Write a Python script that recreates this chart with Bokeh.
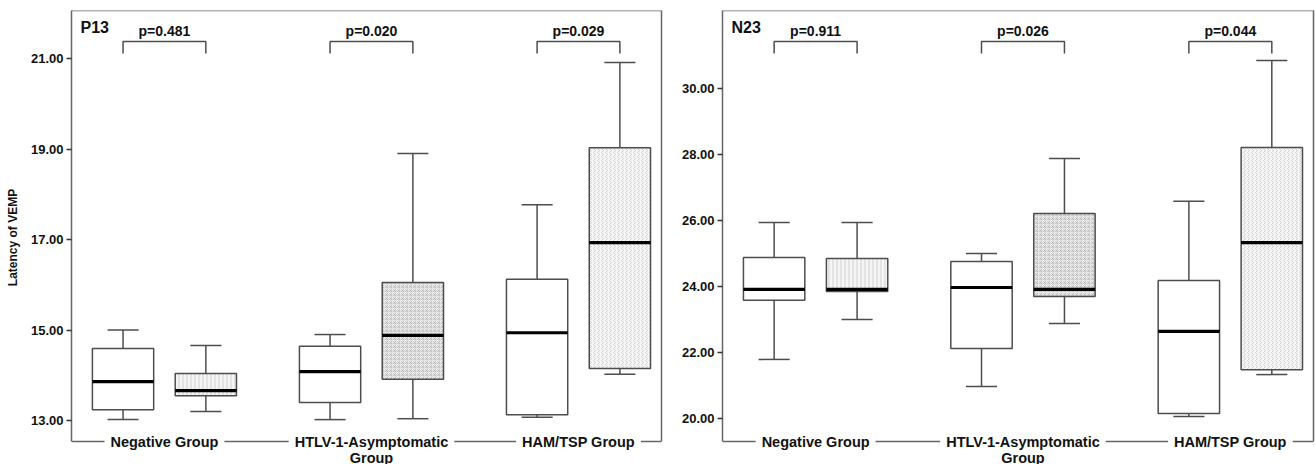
from bokeh.plotting import figure
from bokeh.models import (ColumnDataSource, Range1d, FixedTicker, NumeralTickFormatter, Span, Label,
                          LinearAxis)
from bokeh.layouts import row
from bokeh.embed import file_html
from bokeh.resources import INLINE

# ---------------- data ----------------
group_lines = [["Negative Group"], ["HTLV-1-Asymptomatic", "Group"], ["HAM/TSP Group"]]

# P13 latency (plain boxes)
p13_plain_min = [13.02, 13.02, 13.07]
p13_plain_q1 = [13.24, 13.40, 13.13]
p13_plain_med = [13.86, 14.08, 14.94]
p13_plain_q3 = [14.59, 14.64, 16.12]
p13_plain_max = [15.00, 14.90, 17.77]
# P13 latency (hatched boxes)
p13_hatch_min = [13.20, 13.04, 14.02]
p13_hatch_q1 = [13.55, 13.91, 14.15]
p13_hatch_med = [13.66, 14.88, 16.93]
p13_hatch_q3 = [14.04, 16.05, 19.03]
p13_hatch_max = [14.66, 18.90, 20.91]
p13_pvalues = ["p=0.481", "p=0.020", "p=0.029"]
p13_ticks = [13, 15, 17, 19, 21]

# N23 latency (plain boxes)
n23_plain_min = [21.79, 20.97, 20.06]
n23_plain_q1 = [23.58, 22.12, 20.15]
n23_plain_med = [23.91, 23.97, 22.64]
n23_plain_q3 = [24.88, 24.76, 24.18]
n23_plain_max = [25.94, 25.00, 26.58]
# N23 latency (hatched boxes)
n23_hatch_min = [23.00, 22.88, 21.33]
n23_hatch_q1 = [23.85, 23.70, 21.48]
n23_hatch_med = [23.91, 23.91, 25.33]
n23_hatch_q3 = [24.85, 26.21, 28.21]
n23_hatch_max = [25.94, 27.88, 30.85]
n23_pvalues = ["p=0.911", "p=0.026", "p=0.044"]
n23_ticks = [20, 22, 24, 26, 28, 30]

hatch_patterns = ["vertical_line", "criss_cross", "vertical_wave"]

# ---------------- style / layout ----------------
FONT = "Liberation Sans"
LINE = "#4d4d4d"
FRAME = "#666666"
TXT = "#111111"
FIG_H = 464
BT, BB = 10, 0
FRAME_H = FIG_H - BT - BB
BASE_PX = 431        # px from frame top to the bottom (category) line
X0, X1 = -0.449, 2.401
DX = 0.2
BW = 0.296
CAP = 0.15


def make_panel(name, plain, hatch, pvals, ticks, y_start, y_end, width, bl, br, ylabel=None):
    p = figure(width=width, height=FIG_H, x_range=Range1d(X0, X1), y_range=Range1d(y_start, y_end),
               output_backend="svg", toolbar_location=None,
               min_border_left=bl, min_border_right=br, min_border_top=BT, min_border_bottom=BB)
    p.outline_line_color = None
    p.xaxis.visible = False
    p.xgrid.visible = False
    p.ygrid.visible = False
    p.background_fill_color = "white"
    p.border_fill_color = "white"

    upp = (y_end - y_start) / FRAME_H
    upx = (X1 - X0) / (width - bl - br)

    def yp(px):
        return y_end - px * upp

    y_base = yp(BASE_PX)

    ax = p.yaxis[0]
    ax.bounds = (y_base, y_end)
    ax.ticker = FixedTicker(ticks=ticks)
    ax.formatter = NumeralTickFormatter(format="0.00")
    ax.major_label_text_font = FONT
    ax.major_label_text_font_style = "bold"
    ax.major_label_text_font_size = "13px"
    ax.major_label_text_color = TXT
    ax.major_label_standoff = 3
    ax.major_tick_out = 5
    ax.major_tick_in = 0
    ax.minor_tick_out = 0
    ax.minor_tick_in = 0
    ax.major_tick_line_width = 1.5
    ax.major_tick_line_color = "#333333"
    ax.axis_line_width = 1.5
    ax.axis_line_color = FRAME
    if ylabel:
        ax.axis_label = ylabel
        ax.axis_label_text_font = FONT
        ax.axis_label_text_font_style = "bold"
        ax.axis_label_text_font_size = "12px"
        ax.axis_label_text_color = TXT
        ax.axis_label_standoff = 8

    rax = LinearAxis(ticker=FixedTicker(ticks=[]), bounds=(y_base, y_end),
                     axis_line_color=FRAME, axis_line_width=1.5,
                     major_tick_out=0, major_tick_in=0, minor_tick_out=0, minor_tick_in=0)
    p.add_layout(rax, "right")

    for stats, offs, hatched in ((plain, -DX, False), (hatch, DX, True)):
        mn, q1, md, q3, mx = stats
        xs = [i + offs for i in range(3)]
        src = ColumnDataSource(dict(
            x=xs, mn=mn, q1=q1, md=md, q3=q3, mx=mx,
            cl=[x - CAP / 2 for x in xs], cr=[x + CAP / 2 for x in xs],
            bl=[x - BW / 2 for x in xs], br=[x + BW / 2 for x in xs],
            pat=hatch_patterns,
        ))
        p.segment(x0="x", y0="q3", x1="x", y1="mx", source=src, line_color=LINE, line_width=1.5)
        p.segment(x0="x", y0="mn", x1="x", y1="q1", source=src, line_color=LINE, line_width=1.5)
        p.segment(x0="cl", y0="mx", x1="cr", y1="mx", source=src, line_color=LINE, line_width=1.5)
        p.segment(x0="cl", y0="mn", x1="cr", y1="mn", source=src, line_color=LINE, line_width=1.5)
        if hatched:
            p.vbar(x="x", width=BW, top="q3", bottom="q1", source=src,
                   fill_color="#f5f5f5", line_color=LINE, line_width=1.5,
                   hatch_pattern="pat", hatch_color="#ababab", hatch_scale=4, hatch_weight=0.5)
        else:
            p.vbar(x="x", width=BW, top="q3", bottom="q1", source=src,
                   fill_color="white", line_color=LINE, line_width=1.5)
        p.segment(x0="bl", y0="md", x1="br", y1="md", source=src, line_color="#000000", line_width=3.2)

    # brackets and p-values
    br_xs = [[i - DX, i - DX, i + DX, i + DX] for i in range(3)]
    br_ys = [[yp(43), yp(31), yp(31), yp(43)] for _ in range(3)]
    p.multi_line(xs=br_xs, ys=br_ys, line_color=LINE, line_width=1.5)
    for i, t in enumerate(pvals):
        p.add_layout(Label(x=i, y=yp(20), text=t, text_align="center", text_baseline="middle",
                           text_font=FONT, text_font_style="bold", text_font_size="14px",
                           text_color=TXT))

    # panel title
    p.add_layout(Label(x=X0 + 9 * upx, y=yp(17), text=name, text_align="left", text_baseline="middle",
                       text_font=FONT, text_font_style="bold", text_font_size="16px", text_color=TXT))

    # frame top and bottom lines
    p.add_layout(Span(location=y_end, dimension="width", line_color=FRAME, line_width=1.5))
    p.add_layout(Span(location=y_base, dimension="width", line_color=FRAME, line_width=1.5))

    # category labels breaking the bottom line
    for i, lines in enumerate(group_lines):
        for k, t in enumerate(lines):
            p.add_layout(Label(x=i, y=y_base - k * 16 * upp, text=t, text_align="center",
                               text_baseline="middle", text_font=FONT, text_font_style="bold",
                               text_font_size="14.5px", text_color=TXT,
                               background_fill_color="white" if k == 0 else None, padding=6))
    return p


# ranges chosen so that ticks sit where they do in the reference
p1 = make_panel("P13",
                (p13_plain_min, p13_plain_q1, p13_plain_med, p13_plain_q3, p13_plain_max),
                (p13_hatch_min, p13_hatch_q1, p13_hatch_med, p13_hatch_q3, p13_hatch_max),
                p13_pvalues, p13_ticks, 12.028, 22.061, 666, 71, 5, ylabel="Latency of VEMP")
p2 = make_panel("N23",
                (n23_plain_min, n23_plain_q1, n23_plain_med, n23_plain_q3, n23_plain_max),
                (n23_hatch_min, n23_hatch_q1, n23_hatch_med, n23_hatch_q3, n23_hatch_max),
                n23_pvalues, n23_ticks, 18.606, 32.364, 649, 56, 2)

layout = row(p1, p2)
open("out.html", "w").write(file_html(layout, INLINE))
